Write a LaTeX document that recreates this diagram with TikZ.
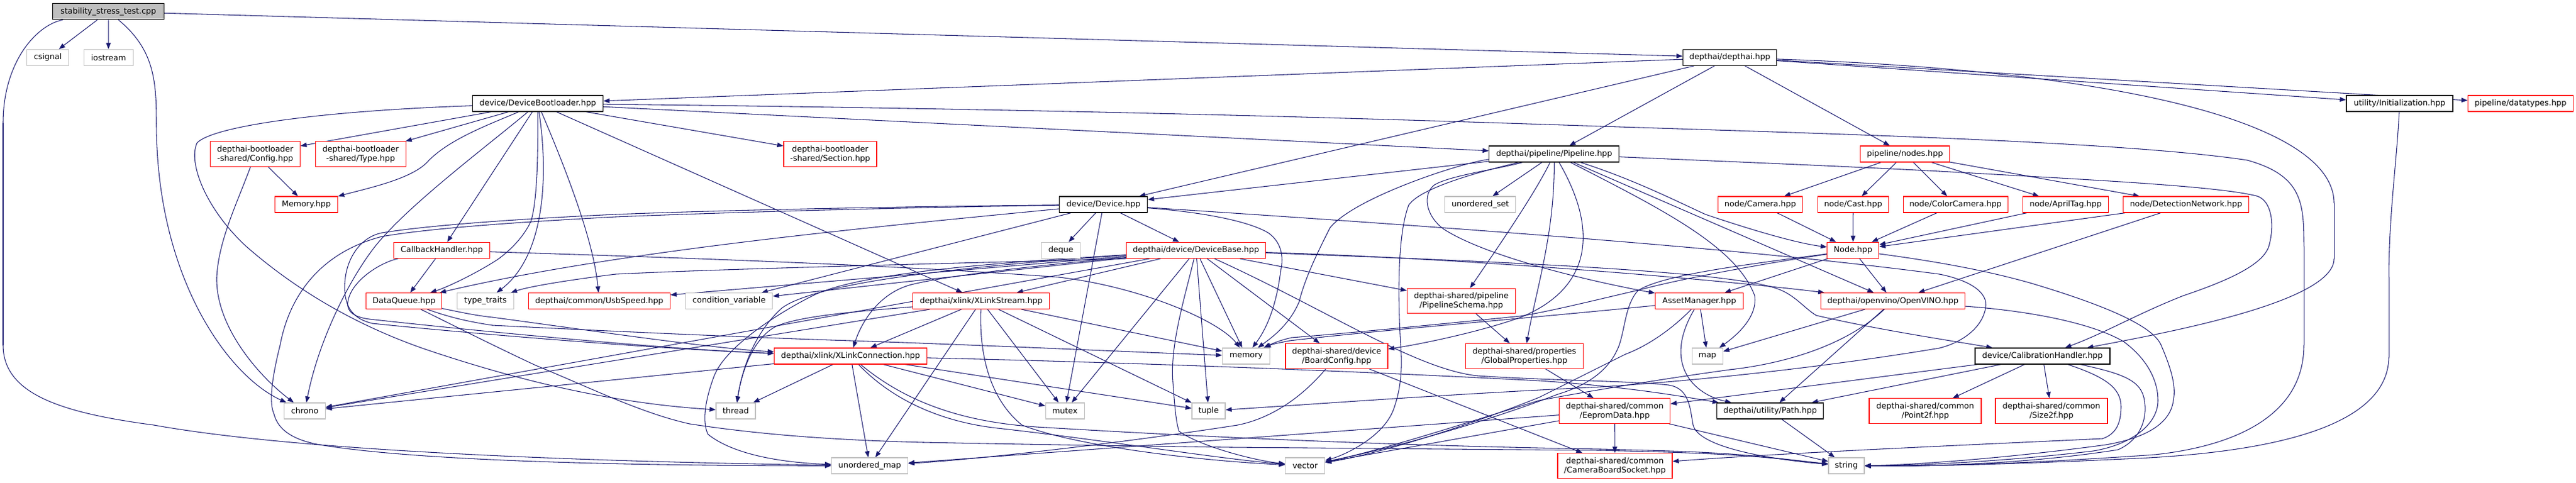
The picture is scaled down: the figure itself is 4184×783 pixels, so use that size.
\documentclass[tikz,border=0pt]{standalone}
\usepackage{fontspec}
\setmainfont{DejaVu Sans}
\usetikzlibrary{arrows.meta,backgrounds}
\definecolor{edgec}{HTML}{191970}
\definecolor{grayb}{HTML}{BFBFBF}
\definecolor{redb}{HTML}{FF0000}
\begin{document}
\begin{tikzpicture}[x=0.75pt,y=-0.75pt,
  nd/.style={rectangle, inner sep=0pt, line width=0.9pt, fill=white, font=\fontsize{9.7}{11.3}\selectfont, align=center},
  sz/.style 2 args={minimum width=#1*0.75pt, minimum height=#2*0.75pt},
  sysn/.style={nd, draw=grayb},
  trn/.style={nd, draw=redb},
  blk/.style={nd, draw=black},
  rootn/.style={nd, draw=black, fill=grayb},
  depl/.style={draw=edgec, line width=0.8pt, line cap=round},
  dep/.style={draw=edgec, line width=0.8pt, -{Triangle[length=7.5pt,width=5.6pt]}}]
\useasboundingbox (0,0) rectangle (4184,783);
% ---------------- nodes
\node[rootn, sz={181}{26}] (root) at (176,18.7) {stability\_stress\_test.cpp};
\node[sysn, sz={68}{26}] (csig) at (77.7,93.3) {csignal};
\node[sysn, sz={80}{26}] (iost) at (176.2,93.3) {iostream};
\node[blk, sz={152}{26}] (dai) at (2809.5,93.3) {depthai/depthai.hpp};
\node[blk, sz={212}{26}] (dbl) at (873.5,168) {device/DeviceBootloader.hpp};
\node[blk, sz={173}{26}] (init) at (3897.5,168) {utility/Initialization.hpp};
\node[trn, sz={171}{26}] (dtyp) at (4094,168) {pipeline/datatypes.hpp};
\node[trn, sz={146}{40.5}] (cfg) at (414.5,250) {depthai-bootloader\\-shared/Config.hpp};
\node[trn, sz={147}{40.5}] (typ) at (585.7,250) {depthai-bootloader\\-shared/Type.hpp};
\node[trn, sz={151}{40.5}] (sec) at (1348.4,250) {depthai-bootloader\\-shared/Section.hpp};
\node[blk, sz={211}{26}] (pipe) at (2524.3,250) {depthai/pipeline/Pipeline.hpp};
\node[trn, sz={145}{26}] (nodes) at (3094,250) {pipeline/nodes.hpp};
\node[trn, sz={102}{26}] (mem) at (497.6,332) {Memory.hpp};
\node[blk, sz={143}{26}] (dev) at (1792.3,332) {device/Device.hpp};
\node[sysn, sz={115}{26}] (uset) at (2404.3,332) {unordered\_set};
\node[trn, sz={137}{26}] (cam) at (2859,332) {node/Camera.hpp};
\node[trn, sz={115}{26}] (cast) at (3010,332) {node/Cast.hpp};
\node[trn, sz={170}{26}] (ccam) at (3176.2,332) {node/ColorCamera.hpp};
\node[trn, sz={138.5}{26}] (atag) at (3355,332) {node/AprilTag.hpp};
\node[trn, sz={204}{26}] (detn) at (3550.6,332) {node/DetectionNetwork.hpp};
\node[trn, sz={156}{26}] (cbh) at (717.5,406.3) {CallbackHandler.hpp};
\node[sysn, sz={63}{26}] (deq) at (1723,406.3) {deque};
\node[trn, sz={226}{26}] (dbase) at (1942.6,406.3) {depthai/device/DeviceBase.hpp};
\node[trn, sz={84}{26}] (nodeh) at (3009.7,406.3) {Node.hpp};
\node[trn, sz={123}{26}] (dq) at (656.2,488.5) {DataQueue.hpp};
\node[sysn, sz={92}{26}] (ttr) at (788.5,488.5) {type\_traits};
\node[trn, sz={230}{26}] (usb) at (973.3,488.5) {depthai/common/UsbSpeed.hpp};
\node[sysn, sz={141}{26}] (cv) at (1184.2,488.5) {condition\_variable};
\node[trn, sz={222}{26}] (xls) at (1593.7,488.5) {depthai/xlink/XLinkStream.hpp};
\node[trn, sz={176}{40.5}] (psch) at (2373.5,488.5) {depthai-shared/pipeline\\/PipelineSchema.hpp};
\node[trn, sz={143}{26}] (amgr) at (2760,488.5) {AssetManager.hpp};
\node[trn, sz={234}{26}] (ov) at (3074.6,488.5) {depthai/openvino/OpenVINO.hpp};
\node[trn, sz={248}{26}] (xlc) at (1381.5,578) {depthai/xlink/XLinkConnection.hpp};
\node[sysn, sz={77}{26}] (memy) at (2024,578) {memory};
\node[trn, sz={166}{40.5}] (bcfg) at (2171,578) {depthai-shared/device\\/BoardConfig.hpp};
\node[trn, sz={191}{40.5}] (gprop) at (2476,578) {depthai-shared/properties\\/GlobalProperties.hpp};
\node[sysn, sz={50}{26}] (map) at (2773.3,578) {map};
\node[blk, sz={219}{26}] (calh) at (3317.5,578) {device/CalibrationHandler.hpp};
\node[sysn, sz={67}{26}] (chr) at (495,667) {chrono};
\node[sysn, sz={64}{26}] (thr) at (1195,667) {thread};
\node[sysn, sz={63}{26}] (mtx) at (1729.7,667) {mutex};
\node[sysn, sz={54}{26}] (tup) at (1963,667) {tuple};
\node[trn, sz={180}{40.5}] (eep) at (2622.6,667) {depthai-shared/common\\/EepromData.hpp};
\node[blk, sz={173}{26}] (pth) at (2875,667) {depthai/utility/Path.hpp};
\node[trn, sz={182}{40.5}] (pt2) at (3127,667) {depthai-shared/common\\/Point2f.hpp};
\node[trn, sz={182}{40.5}] (sz2) at (3332,667) {depthai-shared/common\\/Size2f.hpp};
\node[sysn, sz={124}{26}] (umap) at (1412.6,756) {unordered\_map};
\node[sysn, sz={64}{26}] (vec) at (2119.8,756) {vector};
\node[trn, sz={186}{40.5}] (cbs) at (2623,756) {depthai-shared/common\\/CameraBoardSocket.hpp};
\node[sysn, sz={58}{26}] (str) at (2999,756) {string};
% ---------------- route points
\coordinate (r1a) at (254,200);
\coordinate (r2a) at (5,200); \coordinate (r2b) at (5,560); \coordinate (r2c) at (250,690);
\coordinate (r3a) at (3791,330); \coordinate (r3b) at (3791,420);
\coordinate (r4z) at (2600,205); \coordinate (r4a) at (3650,260); \coordinate (r4b) at (3742,400); \coordinate (r4c) at (3742,560); \coordinate (r4d) at (3500,738);
\coordinate (r5a) at (320,232); \coordinate (r5b) at (400,400); \coordinate (r5c) at (700,570);
\coordinate (r6a) at (352,450);
\coordinate (r7a) at (565,490); \coordinate (r7b) at (600,518);
\coordinate (r8a) at (1720,450);
\coordinate (r9z) at (800,528); \coordinate (r9a) at (1350,552);
\coordinate (r10a) at (800,515);
\coordinate (r11a) at (870,593); \coordinate (r11b) at (1120,688); \coordinate (r11c) at (1500,718); \coordinate (r11d) at (2000,726); \coordinate (r11e) at (2600,731); \coordinate (r11f) at (2760,736);
\coordinate (r12a) at (862,360); \coordinate (r12b) at (810,420);
\coordinate (r13a) at (695,262);
\coordinate (r14a) at (622,385);
\coordinate (r15a) at (2060,378); \coordinate (r15b) at (2080,440);
\coordinate (r16a) at (1000,348); \coordinate (r16b) at (620,378); \coordinate (r16c) at (560,460); \coordinate (r16d) at (605,525);
\coordinate (r17a) at (1000,352); \coordinate (r17b) at (620,384); \coordinate (r17c) at (455,560); \coordinate (r17d) at (445,672); \coordinate (r17e) at (520,722);
\coordinate (r18a) at (3150,445); \coordinate (r18b) at (3225,500); \coordinate (r18c) at (3150,565); \coordinate (r18d) at (2600,628);
\coordinate (r19a) at (1480,462);
\coordinate (r20a) at (2400,610); \coordinate (r20m) at (2710,625); \coordinate (r20b) at (2750,690);
\coordinate (r21a) at (1905,620); \coordinate (r21b) at (1915,700);
\coordinate (r22a) at (2885,468); \coordinate (r22b) at (2950,512);
\coordinate (r23a) at (1000,445);
\coordinate (r24a) at (1270,500);
\coordinate (r25a) at (1320,480); \coordinate (r25b) at (1160,610); \coordinate (r25c) at (1150,705);
\coordinate (r26a) at (1260,530);
\coordinate (r27a) at (1660,690);
\coordinate (r28a) at (2500,618);
\coordinate (r29a) at (1620,695);
\coordinate (r30a) at (1700,694); \coordinate (r30b) at (2600,729); \coordinate (r30c) at (2760,734);
\coordinate (r31a) at (2770,348);
\coordinate (r32a) at (3150,278); \coordinate (r32b) at (3665,318); \coordinate (r32c) at (3685,400); \coordinate (r32d) at (3546,480);
\coordinate (r33a) at (2288,333); \coordinate (r33b) at (2275,560); \coordinate (r33c) at (2265,660);
\coordinate (r34a) at (2470,515);
\coordinate (r35a) at (2850,480);
\coordinate (r36z) at (2330,300); \coordinate (r36a) at (2345,372);
\coordinate (r37a) at (2160,370); \coordinate (r37b) at (2110,490);
\coordinate (r38a) at (2665,470); \coordinate (r38b) at (2470,513); \coordinate (r38c) at (2098,548);
\coordinate (r39a) at (2095,553);
\coordinate (r40a) at (2660,472); \coordinate (r40b) at (2630,560); \coordinate (r40c) at (2530,640);
\coordinate (r41a) at (3300,460); \coordinate (r41b) at (3510,560); \coordinate (r41c) at (3530,650); \coordinate (r41d) at (3420,722);
\coordinate (r42a) at (2810,600); \coordinate (r42b) at (2500,650);
\coordinate (r43a) at (3450,555); \coordinate (r43b) at (3505,650); \coordinate (r43c) at (3400,732);
\coordinate (r44a) at (2640,575); \coordinate (r44b) at (2500,645);
\coordinate (r45a) at (3445,660); \coordinate (r45b) at (3415,712);
\coordinate (r46a) at (3482,645); \coordinate (r46b) at (3440,730);
\coordinate (r47a) at (2010,690);
\coordinate (r48a) at (3880,450); \coordinate (r48b) at (3880,580); \coordinate (r48c) at (3450,745);

\begin{pgfonlayer}{background}
\fill[white] (0,0) rectangle (4184,783);
% root
\draw[dep] (root) -- (csig);
\draw[dep] (root) -- (iost);
\draw[dep] (root) -- (dai);
\draw[depl] (root) .. controls (250,80) and (254,130) .. (r1a);
\draw[dep] (r1a) .. controls (254,450) and (370,610) .. (chr);
\draw[depl] (root) .. controls (60,40) and (5,100) .. (r2a);
\draw[depl] (r2a) -- (r2b);
\draw[depl] (r2b) .. controls (5,640) and (100,670) .. (r2c);
\draw[dep] (r2c) .. controls (500,735) and (1000,750) .. (umap);
% depthai
\draw[dep] (dai) -- (dbl);
\draw[dep] (dai) -- (dev);
\draw[dep] (dai) -- (pipe);
\draw[dep] (dai) -- (nodes);
\draw[dep] (dai) -- (init);
\draw[dep] (dai) -- (dtyp);
\draw[depl] (dai) .. controls (3450,115) and (3791,200) .. (r3a);
\draw[depl] (r3a) -- (r3b);
\draw[dep] (r3b) .. controls (3791,490) and (3520,540) .. (calh);
% DeviceBootloader
\draw[dep] (dbl) -- (cfg);
\draw[dep] (dbl) -- (typ);
\draw[depl] (dbl) .. controls (800,200) and (730,225) .. (r13a);
\draw[dep] (r13a) .. controls (670,290) and (600,305) .. (mem);
\draw[dep] (dbl) -- (sec);
\draw[dep] (dbl) -- (cbh);
\draw[depl] (dbl) .. controls (874,260) and (872,330) .. (r12a);
\draw[depl] (r12a) .. controls (850,385) and (830,405) .. (r12b);
\draw[dep] (r12b) .. controls (780,440) and (730,465) .. (dq);
\draw[dep] (dbl) .. controls (893,300) and (880,420) .. (ttr);
\draw[dep] (dbl) .. controls (930,300) and (965,400) .. (usb);
\draw[depl] (dbl) .. controls (800,230) and (680,320) .. (r14a);
\draw[dep] (r14a) .. controls (580,430) and (520,540) .. (chr);
\draw[dep] (dbl) -- (xls);
\draw[dep] (dbl) -- (pipe);
\draw[depl] (dbl) .. controls (1800,178) and (2300,195) .. (r4z);
\draw[depl] (r4z) .. controls (3000,218) and (3450,230) .. (r4a);
\draw[depl] (r4a) .. controls (3740,285) and (3742,330) .. (r4b);
\draw[depl] (r4b) -- (r4c);
\draw[depl] (r4c) .. controls (3742,680) and (3620,725) .. (r4d);
\draw[dep] (r4d) .. controls (3300,752) and (3150,757) .. (str);
\draw[depl] (dbl) .. controls (520,180) and (345,205) .. (r5a);
\draw[depl] (r5a) .. controls (305,265) and (335,340) .. (r5b);
\draw[depl] (r5b) .. controls (480,470) and (580,530) .. (r5c);
\draw[dep] (r5c) .. controls (850,620) and (1000,655) .. (thr);
% Config
\draw[dep] (cfg) -- (mem);
\draw[depl] (cfg) .. controls (385,330) and (355,390) .. (r6a);
\draw[dep] (r6a) .. controls (350,530) and (420,610) .. (chr);
% CallbackHandler
\draw[dep] (cbh) -- (dq);
\draw[depl] (cbh) .. controls (620,425) and (570,455) .. (r7a);
\draw[depl] (r7a) .. controls (562,505) and (575,515) .. (r7b);
\draw[dep] (r7b) .. controls (800,540) and (1100,568) .. (xlc);
\draw[depl] (cbh) .. controls (1100,418) and (1450,430) .. (r8a);
\draw[dep] (r8a) .. controls (1850,465) and (1980,520) .. (memy);
% DataQueue
\draw[depl] (dq) .. controls (730,515) and (760,522) .. (r9z);
\draw[depl] (r9z) .. controls (1000,538) and (1200,547) .. (r9a);
\draw[dep] (r9a) .. controls (1600,560) and (1850,572) .. (memy);
\draw[depl] (dq) .. controls (740,505) and (770,512) .. (r10a);
\draw[dep] (r10a) .. controls (950,535) and (1150,565) .. (xlc);
\draw[depl] (dq) .. controls (760,540) and (810,565) .. (r11a);
\draw[depl] (r11a) .. controls (960,630) and (1040,670) .. (r11b);
\draw[depl] (r11b) .. controls (1250,708) and (1380,715) .. (r11c);
\draw[depl] (r11c) .. controls (1700,722) and (1850,724) .. (r11d);
\draw[depl] (r11d) .. controls (2250,728) and (2450,730) .. (r11e);
\draw[depl] (r11e) .. controls (2680,733) and (2720,734) .. (r11f);
\draw[dep] (r11f) .. controls (2850,739) and (2920,748) .. (str);
% Device
\draw[dep] (dev) -- (deq);
\draw[dep] (dev) -- (dbase);
\draw[dep] (dev) -- (mtx);
\draw[dep] (dev) -- (cv);
\draw[depl] (dev) .. controls (1960,345) and (2030,360) .. (r15a);
\draw[depl] (r15a) .. controls (2080,392) and (2086,415) .. (r15b);
\draw[dep] (r15b) .. controls (2074,490) and (2060,530) .. (memy);
\draw[dep] (dev) .. controls (1400,370) and (1000,408) .. (dq);
\draw[depl] (dev) .. controls (1400,336) and (1150,342) .. (r16a);
\draw[depl] (r16a) .. controls (850,355) and (700,365) .. (r16b);
\draw[depl] (r16b) .. controls (585,385) and (562,420) .. (r16c);
\draw[depl] (r16c) .. controls (558,500) and (575,518) .. (r16d);
\draw[dep] (r16d) .. controls (800,545) and (1100,568) .. (xlc);
\draw[depl] (dev) .. controls (1400,338) and (1150,346) .. (r17a);
\draw[depl] (r17a) .. controls (850,360) and (700,370) .. (r17b);
\draw[depl] (r17b) .. controls (520,410) and (470,480) .. (r17c);
\draw[depl] (r17c) .. controls (445,600) and (435,650) .. (r17d);
\draw[depl] (r17d) .. controls (452,700) and (480,715) .. (r17e);
\draw[dep] (r17e) .. controls (700,752) and (1100,756) .. (umap);
\draw[depl] (dev) .. controls (2400,372) and (2850,405) .. (r18a);
\draw[depl] (r18a) .. controls (3200,455) and (3230,475) .. (r18b);
\draw[depl] (r18b) .. controls (3220,530) and (3190,555) .. (r18c);
\draw[depl] (r18c) .. controls (3000,590) and (2800,615) .. (r18d);
\draw[dep] (r18d) .. controls (2350,640) and (2150,655) .. (tup);
% DeviceBase
\draw[dep] (dbase) -- (xls);
\draw[depl] (dbase) .. controls (1700,430) and (1550,445) .. (r19a);
\draw[dep] (r19a) .. controls (1430,475) and (1400,520) .. (xlc);
\draw[dep] (dbase) -- (mtx);
\draw[dep] (dbase) -- (tup);
\draw[dep] (dbase) -- (memy);
\draw[dep] (dbase) -- (bcfg);
\draw[depl] (dbase) .. controls (2150,500) and (2300,600) .. (r20a);
\draw[depl] (r20a) .. controls (2520,618) and (2650,618) .. (r20m);
\draw[depl] (r20m) .. controls (2745,630) and (2745,665) .. (r20b);
\draw[dep] (r20b) .. controls (2760,730) and (2900,748) .. (str);
\draw[depl] (dbase) .. controls (1925,480) and (1900,560) .. (r21a);
\draw[depl] (r21a) .. controls (1908,660) and (1910,685) .. (r21b);
\draw[dep] (r21b) .. controls (1950,725) and (2040,748) .. (vec);
\draw[dep] (dbase) .. controls (2400,420) and (2800,455) .. (ov);
\draw[depl] (dbase) .. controls (2450,425) and (2800,440) .. (r22a);
\draw[depl] (r22a) .. controls (2915,478) and (2930,500) .. (r22b);
\draw[dep] (r22b) .. controls (3050,535) and (3150,550) .. (calh);
\draw[dep] (dbase) -- (psch);
\draw[dep] (dbase) -- (usb);
\draw[depl] (dbase.south west) .. controls (1650,425) and (1200,435) .. (r23a);
\draw[dep] (r23a) .. controls (920,455) and (860,465) .. (ttr);
\draw[dep] (dbase) -- (cv);
\draw[depl] (dbase) .. controls (1600,430) and (1330,455) .. (r24a);
\draw[dep] (r24a) .. controls (1225,540) and (1205,600) .. (thr);
\draw[dep] (dbase) -- (chr);
\draw[depl] (dbase) .. controls (1650,425) and (1400,440) .. (r25a);
\draw[depl] (r25a) .. controls (1270,505) and (1180,560) .. (r25b);
\draw[depl] (r25b) .. controls (1145,650) and (1140,685) .. (r25c);
\draw[dep] (r25c) .. controls (1200,745) and (1300,752) .. (umap);
% XLinkStream
\draw[dep] (xls) -- (xlc);
\draw[dep] (xls) -- (chr);
\draw[depl] (xls) .. controls (1400,505) and (1300,512) .. (r26a);
\draw[dep] (r26a) .. controls (1225,548) and (1205,600) .. (thr);
\draw[dep] (xls) -- (umap);
\draw[dep] (xls) -- (mtx);
\draw[dep] (xls) -- (tup);
\draw[dep] (xls) -- (memy);
\draw[depl] (xls) .. controls (1590,580) and (1610,650) .. (r27a);
\draw[dep] (r27a) .. controls (1750,725) and (1950,748) .. (vec);
% XLinkConnection
\draw[dep] (xlc) -- (thr);
\draw[dep] (xlc) -- (umap);
\draw[dep] (xlc) -- (mtx);
\draw[dep] (xlc) -- (tup);
\draw[depl] (xlc) .. controls (1900,590) and (2250,605) .. (r28a);
\draw[dep] (r28a) .. controls (2650,628) and (2740,645) .. (pth);
\draw[dep] (xlc) -- (chr);
\draw[depl] (xlc) .. controls (1450,650) and (1530,685) .. (r29a);
\draw[dep] (r29a) .. controls (1800,715) and (1980,745) .. (vec);
\draw[depl] (xlc) .. controls (1480,660) and (1580,688) .. (r30a);
\draw[depl] (r30a) .. controls (2000,712) and (2300,724) .. (r30b);
\draw[depl] (r30b) .. controls (2680,731) and (2720,732) .. (r30c);
\draw[dep] (r30c) .. controls (2850,738) and (2920,748) .. (str);
% Pipeline
\draw[dep] (pipe) -- (dev);
\draw[dep] (pipe) -- (uset);
\draw[depl] (pipe) .. controls (2650,290) and (2720,325) .. (r31a);
\draw[dep] (r31a) .. controls (2850,375) and (2920,395) .. (nodeh);
\draw[depl] (pipe) .. controls (2800,262) and (3000,270) .. (r32a);
\draw[depl] (r32a) .. controls (3400,292) and (3600,302) .. (r32b);
\draw[depl] (r32b) .. controls (3690,325) and (3695,365) .. (r32c);
\draw[depl] (r32c) .. controls (3675,430) and (3620,455) .. (r32d);
\draw[dep] (r32d) .. controls (3470,510) and (3420,540) .. (calh);
\draw[depl] (pipe) .. controls (2440,270) and (2310,300) .. (r33a);
\draw[depl] (r33a) .. controls (2270,380) and (2270,480) .. (r33b);
\draw[depl] (r33b) .. controls (2278,600) and (2275,630) .. (r33c);
\draw[dep] (r33c) .. controls (2250,710) and (2180,740) .. (vec);
\draw[dep] (pipe) .. controls (2490,320) and (2420,420) .. (psch);
\draw[dep] (pipe) .. controls (2525,380) and (2495,470) .. (gprop);
\draw[depl] (pipe) .. controls (2600,380) and (2580,470) .. (r34a);
\draw[dep] (r34a) .. controls (2400,540) and (2300,560) .. (bcfg);
\draw[depl] (pipe) .. controls (2700,340) and (2820,400) .. (r35a);
\draw[dep] (r35a) .. controls (2855,515) and (2820,545) .. (map);
\draw[dep] (pipe) -- (ov);
\draw[depl] (pipe) .. controls (2430,275) and (2355,285) .. (r36z);
\draw[depl] (r36z) .. controls (2310,315) and (2315,350) .. (r36a);
\draw[dep] (r36a) .. controls (2420,420) and (2600,460) .. (amgr);
\draw[depl] (pipe) .. controls (2380,262) and (2200,320) .. (r37a);
\draw[depl] (r37a) .. controls (2140,410) and (2120,450) .. (r37b);
\draw[dep] (r37b) .. controls (2095,525) and (2070,545) .. (memy);
% nodes
\draw[dep] (nodes) -- (cam);
\draw[dep] (nodes) -- (cast);
\draw[dep] (nodes) -- (ccam);
\draw[dep] (nodes) -- (atag);
\draw[dep] (nodes) -- (detn);
\draw[dep] (cam) -- (nodeh);
\draw[dep] (cast) -- (nodeh);
\draw[dep] (ccam) -- (nodeh);
\draw[dep] (atag) -- (nodeh);
\draw[dep] (detn) -- (nodeh);
\draw[dep] (detn) -- (ov);
% Node
\draw[depl] (nodeh) .. controls (2850,430) and (2720,455) .. (r38a);
\draw[depl] (r38a) .. controls (2600,485) and (2520,505) .. (r38b);
\draw[depl] (r38b) .. controls (2350,525) and (2200,540) .. (r38c);
\draw[dep] (r38c) .. controls (2080,552) and (2068,557) .. (memy);
\draw[depl] (nodeh) .. controls (2850,428) and (2700,445) .. (r40a);
\draw[depl] (r40a) .. controls (2640,495) and (2640,530) .. (r40b);
\draw[depl] (r40b) .. controls (2615,600) and (2580,625) .. (r40c);
\draw[dep] (r40c) .. controls (2400,690) and (2250,730) .. (vec);
\draw[dep] (nodeh) -- (amgr);
\draw[dep] (nodeh) -- (ov);
\draw[depl] (nodeh) .. controls (3150,425) and (3230,440) .. (r41a);
\draw[depl] (r41a) .. controls (3400,490) and (3495,525) .. (r41b);
\draw[depl] (r41b) .. controls (3525,595) and (3535,625) .. (r41c);
\draw[depl] (r41c) .. controls (3525,690) and (3480,712) .. (r41d);
\draw[dep] (r41d) .. controls (3250,745) and (3100,755) .. (str);
% OpenVINO
\draw[dep] (ov) -- (map);
\draw[dep] (ov) -- (pth);
\draw[depl] (ov) .. controls (3000,560) and (2900,590) .. (r42a);
\draw[depl] (r42a) .. controls (2700,615) and (2580,635) .. (r42b);
\draw[dep] (r42b) .. controls (2400,680) and (2250,730) .. (vec);
\draw[depl] (ov) .. controls (3300,505) and (3400,525) .. (r43a);
\draw[depl] (r43a) .. controls (3490,585) and (3505,620) .. (r43b);
\draw[depl] (r43b) .. controls (3505,690) and (3460,722) .. (r43c);
\draw[dep] (r43c) .. controls (3250,750) and (3100,756) .. (str);
% AssetManager
\draw[depl] (amgr) .. controls (2500,515) and (2250,535) .. (r39a);
\draw[dep] (r39a) .. controls (2080,556) and (2068,558) .. (memy);
\draw[dep] (amgr) -- (map);
\draw[dep] (amgr) .. controls (2700,590) and (2750,640) .. (pth);
\draw[depl] (amgr) .. controls (2720,530) and (2680,560) .. (r44a);
\draw[depl] (r44a) .. controls (2590,600) and (2540,625) .. (r44b);
\draw[dep] (r44b) .. controls (2400,685) and (2250,735) .. (vec);
% CalibrationHandler
\draw[dep] (calh) -- (eep);
\draw[dep] (calh) -- (pth);
\draw[dep] (calh) -- (pt2);
\draw[dep] (calh) -- (sz2);
\draw[depl] (calh) .. controls (3420,612) and (3445,630) .. (r45a);
\draw[depl] (r45a) .. controls (3445,690) and (3435,705) .. (r45b);
\draw[dep] (r45b) .. controls (3200,722) and (2900,735) .. (cbs);
\draw[depl] (calh) .. controls (3440,605) and (3475,615) .. (r46a);
\draw[depl] (r46a) .. controls (3490,680) and (3475,715) .. (r46b);
\draw[dep] (r46b) .. controls (3300,752) and (3150,757) .. (str);
% EepromData, BoardConfig, properties
\draw[dep] (eep) -- (cbs);
\draw[dep] (eep) -- (str);
\draw[dep] (eep) -- (vec);
\draw[dep] (eep) -- (umap);
\draw[dep] (bcfg) -- (cbs);
\draw[depl] (bcfg) .. controls (2110,650) and (2060,680) .. (r47a);
\draw[dep] (r47a) .. controls (1850,715) and (1600,745) .. (umap);
\draw[dep] (psch) -- (gprop);
\draw[dep] (gprop) -- (eep);
% Path, Initialization
\draw[dep] (pth) -- (str);
\draw[depl] (init) .. controls (3893,260) and (3880,350) .. (r48a);
\draw[depl] (r48a) -- (r48b);
\draw[depl] (r48b) .. controls (3878,690) and (3700,735) .. (r48c);
\draw[dep] (r48c) .. controls (3300,752) and (3150,757) .. (str);
\end{pgfonlayer}
\end{tikzpicture}
\end{document}
